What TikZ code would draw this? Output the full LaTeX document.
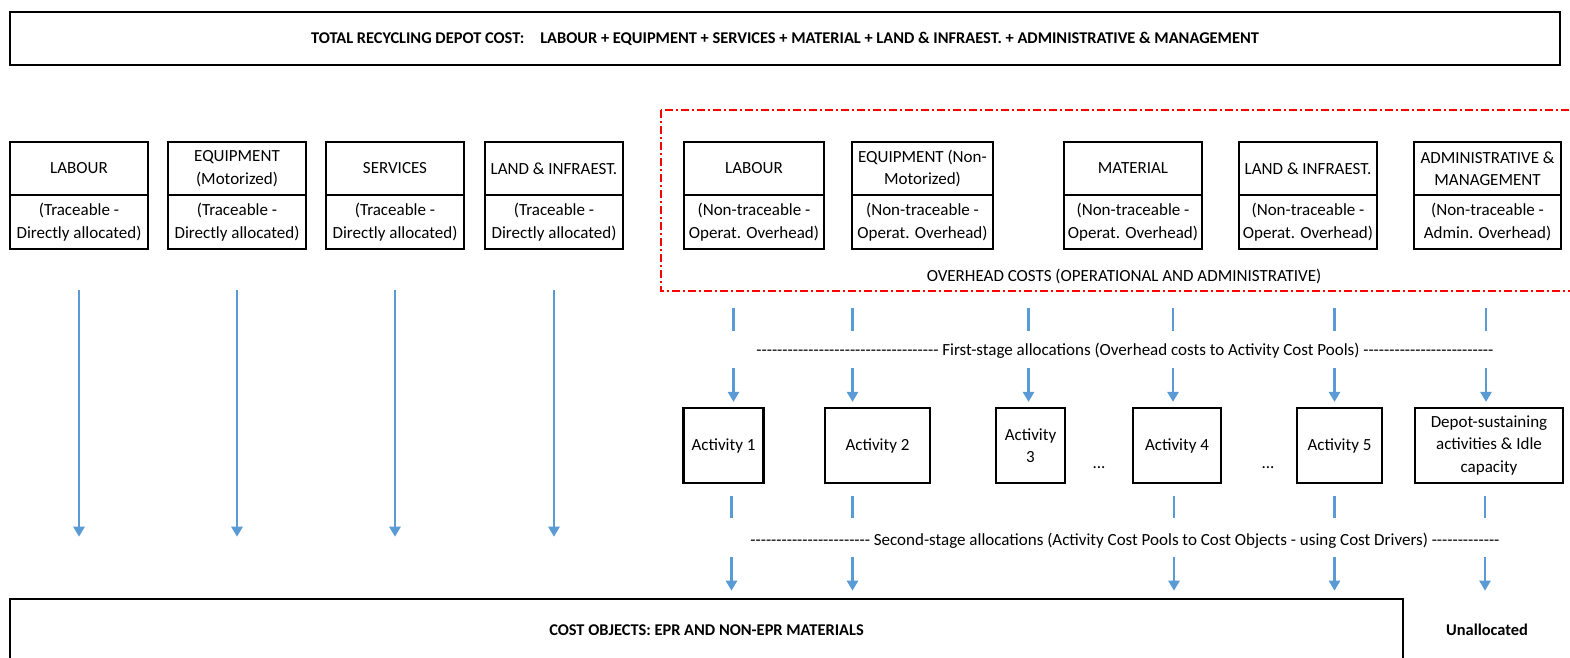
\documentclass[tikz,border=0pt]{standalone}
\usepackage{fontspec}
\setmainfont{Carlito}[Ligatures=TeXOff]
\usepackage{tikz}
\usetikzlibrary{arrows.meta,positioning}
\definecolor{arblue}{HTML}{5B9BD5}
\definecolor{ohred}{HTML}{FF0000}

\begin{document}
\begin{tikzpicture}[x=1pt, y=-1pt,
  every node/.style={font=\fontsize{17}{22.5}\selectfont},
  bigbox/.style={draw, line width=2.6pt, inner sep=1pt, align=center,
                 font=\fontsize{16.4}{20}\selectfont\bfseries},
  costbox/.style={draw, line width=1.6pt, minimum width=138pt, minimum height=53.5pt,
                  inner sep=1pt, outer sep=0pt, align=center},
  actbox/.style={draw, line width=2.2pt, minimum height=75pt, inner sep=1pt, align=center},
  ohframe/.style={draw=ohred, line width=1.8pt, dash pattern=on 8pt off 3pt on 2pt off 3pt},
  lbl/.style={inner sep=1pt, align=center},
  arr/.style={-{Triangle[width=11pt, length=10pt]}, line width=2.8pt, arblue},
  gap1/.style={line width=2.8pt, arblue, shorten <=59pt, shorten >=76pt},
  arr1/.style={arr, shorten <=119pt, shorten >=5pt},
  gap2/.style={line width=2.8pt, arblue, shorten <=12pt, shorten >=80pt},
  arr2/.style={arr, shorten <=73pt, shorten >=7pt}
]
\clip (0,0) rectangle (1570,657);

% total cost
\node[bigbox, minimum width=1550pt, minimum height=53pt] (total) at (785,38.5)
  {TOTAL RECYCLING DEPOT COST:\hspace{16pt}LABOUR + EQUIPMENT + SERVICES + MATERIAL + LAND \& INFRAEST. + ADMINISTRATIVE \& MANAGEMENT};

% traceable costs
\node[costbox] (lab-t) at (79,168.5) {LABOUR};
\node[costbox, below=0pt of lab-t] (lab-b) {(Traceable -\\Directly allocated)};
\node[costbox] (eqm-t) at (237,168.5) {EQUIPMENT\\(Motorized)};
\node[costbox, below=0pt of eqm-t] (eqm-b) {(Traceable -\\Directly allocated)};
\node[costbox] (srv-t) at (395,168.5) {SERVICES};
\node[costbox, below=0pt of srv-t] (srv-b) {(Traceable -\\Directly allocated)};
\node[costbox] (lnd-t) at (554,168.5) {LAND \& INFRAEST.};
\node[costbox, below=0pt of lnd-t] (lnd-b) {(Traceable -\\Directly allocated)};

% overhead costs
\draw[ohframe] (661,110) rectangle (1590,291);
\node[costbox, minimum width=140pt] (ohlab-t) at (754,168.5) {LABOUR};
\node[costbox, minimum width=140pt, below=0pt of ohlab-t] (ohlab-b) {(Non-traceable -\\Operat. Overhead)};
\node[costbox, minimum width=141pt] (oheqm-t) at (922.5,168.5) {EQUIPMENT (Non-\\Motorized)};
\node[costbox, minimum width=141pt, below=0pt of oheqm-t] (oheqm-b) {(Non-traceable -\\Operat. Overhead)};
\node[costbox] (ohmat-t) at (1133,168.5) {MATERIAL};
\node[costbox, below=0pt of ohmat-t] (ohmat-b) {(Non-traceable -\\Operat. Overhead)};
\node[costbox] (ohlnd-t) at (1308,168.5) {LAND \& INFRAEST.};
\node[costbox, below=0pt of ohlnd-t] (ohlnd-b) {(Non-traceable -\\Operat. Overhead)};
\node[costbox, minimum width=147pt] (ohadm-t) at (1487.5,168.5) {ADMINISTRATIVE \&\\MANAGEMENT};
\node[costbox, minimum width=147pt, below=0pt of ohadm-t] (ohadm-b) {(Non-traceable -\\Admin. Overhead)};
\node[lbl] (ohtitle) at (1124,276) {OVERHEAD COSTS (OPERATIONAL AND ADMINISTRATIVE)};

% activity cost pools
\node[actbox, minimum width=80pt] (act1) at (723.5,445.5) {Activity 1};
\node[actbox, minimum width=105pt] (act2) at (877.5,445.5) {Activity 2};
\node[actbox, minimum width=69pt] (act3) at (1030.5,445.5) {Activity\\3};
\node[actbox, minimum width=88pt] (act4) at (1177,445.5) {Activity 4};
\node[actbox, minimum width=85pt] (act5) at (1339.5,445.5) {Activity 5};
\node[actbox, minimum width=148pt] (depot) at (1489,445.5) {Depot-sustaining\\activities \& Idle\\capacity};
\node[lbl] (dots1) at (1099,468) {...};
\node[lbl] (dots2) at (1268,468) {...};

\node[lbl] (stage1) at (1125,351)
  {----------------------------------- First-stage allocations (Overhead costs to Activity Cost Pools) -------------------------};
\node[lbl] (stage2) at (1125,541)
  {----------------------- Second-stage allocations (Activity Cost Pools to Cost Objects - using Cost Drivers) -------------};

% cost objects
\node[bigbox, minimum width=1393pt, minimum height=62pt] (cost) at (706.5,630)
  {COST OBJECTS: EPR AND NON-EPR MATERIALS};
\node[lbl, font=\fontsize{16.4}{20}\selectfont\bfseries] (unalloc) at (1487,630) {Unallocated};

% direct allocation
\draw[arr, shorten <=41pt, shorten >=61pt] (lab-b) -- (lab-b |- cost.north);
\draw[arr, shorten <=41pt, shorten >=61pt] (eqm-b) -- (eqm-b |- cost.north);
\draw[arr, shorten <=41pt, shorten >=61pt] (srv-b) -- (srv-b |- cost.north);
\draw[arr, shorten <=41pt, shorten >=61pt] (lnd-b) -- (lnd-b |- cost.north);

% first stage
\draw[gap1] ([xshift=10pt]act1.north |- ohlab-b.south) -- ([xshift=10pt]act1.north);
\draw[arr1] ([xshift=10pt]act1.north |- ohlab-b.south) -- ([xshift=10pt]act1.north);
\draw[gap1] ([xshift=-25pt]act2.north |- oheqm-b.south) -- ([xshift=-25pt]act2.north);
\draw[arr1] ([xshift=-25pt]act2.north |- oheqm-b.south) -- ([xshift=-25pt]act2.north);
\draw[gap1] ([xshift=-2pt]act3.north |- ohmat-b.south) -- ([xshift=-2pt]act3.north);
\draw[arr1] ([xshift=-2pt]act3.north |- ohmat-b.south) -- ([xshift=-2pt]act3.north);
\draw[gap1] ([xshift=-4pt]act4.north |- ohlnd-b.south) -- ([xshift=-4pt]act4.north);
\draw[arr1] ([xshift=-4pt]act4.north |- ohlnd-b.south) -- ([xshift=-4pt]act4.north);
\draw[gap1] ([xshift=-5pt]act5.north |- ohlnd-b.south) -- ([xshift=-5pt]act5.north);
\draw[arr1] ([xshift=-5pt]act5.north |- ohlnd-b.south) -- ([xshift=-5pt]act5.north);
\draw[gap1] ([xshift=-3pt]depot.north |- ohadm-b.south) -- ([xshift=-3pt]depot.north);
\draw[arr1] ([xshift=-3pt]depot.north |- ohadm-b.south) -- ([xshift=-3pt]depot.north);

% second stage
\draw[gap2] ([xshift=8pt]act1.south) -- ([xshift=8pt]act1.south |- cost.north);
\draw[arr2] ([xshift=8pt]act1.south) -- ([xshift=8pt]act1.south |- cost.north);
\draw[gap2] ([xshift=-25pt]act2.south) -- ([xshift=-25pt]act2.south |- cost.north);
\draw[arr2] ([xshift=-25pt]act2.south) -- ([xshift=-25pt]act2.south |- cost.north);
\draw[gap2] ([xshift=-3pt]act4.south) -- ([xshift=-3pt]act4.south |- cost.north);
\draw[arr2] ([xshift=-3pt]act4.south) -- ([xshift=-3pt]act4.south |- cost.north);
\draw[gap2] ([xshift=-5pt]act5.south) -- ([xshift=-5pt]act5.south |- cost.north);
\draw[arr2] ([xshift=-5pt]act5.south) -- ([xshift=-5pt]act5.south |- cost.north);
\draw[gap2] ([xshift=-4pt]depot.south) -- ([xshift=-4pt]depot.south |- cost.north);
\draw[arr2] ([xshift=-4pt]depot.south) -- ([xshift=-4pt]depot.south |- cost.north);
\end{tikzpicture}
\end{document}
